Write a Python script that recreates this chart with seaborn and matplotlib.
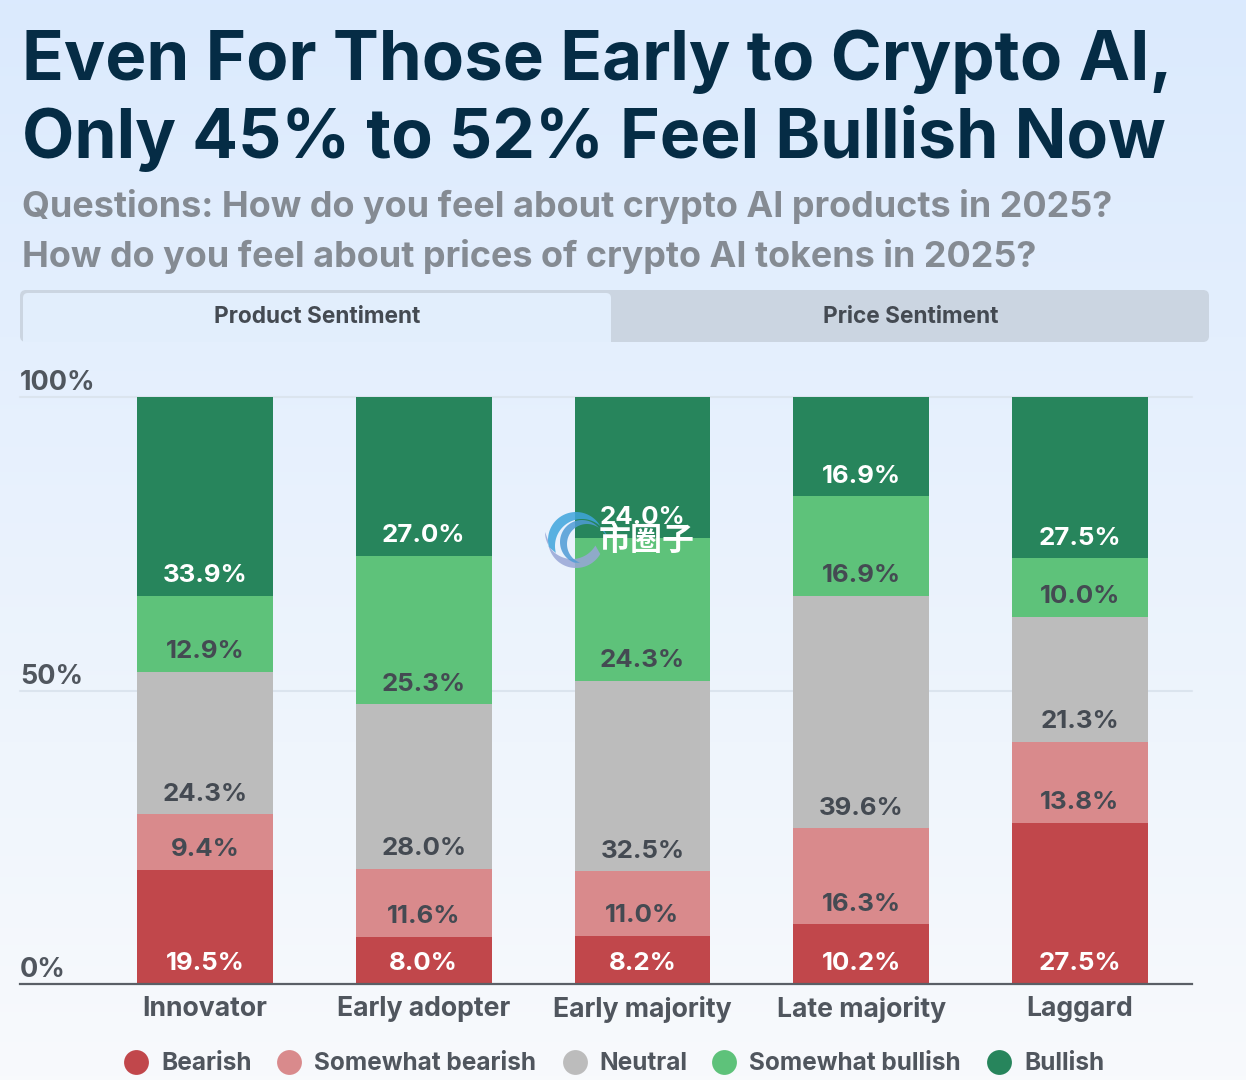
import numpy as np
import pandas as pd
import seaborn as sns
import matplotlib.pyplot as plt
from matplotlib.patches import Rectangle, FancyBboxPatch, Polygon

# Chart data
groups = ['Innovator', 'Early adopter', 'Early majority', 'Late majority', 'Laggard']
bearish = [19.5, 8.0, 8.2, 10.2, 27.5]
somewhat_bearish = [9.4, 11.6, 11.0, 16.3, 13.8]
neutral = [24.3, 28.0, 32.5, 39.6, 21.3]
somewhat_bullish = [12.9, 25.3, 24.3, 16.9, 10.0]
bullish = [33.9, 27.0, 24.0, 16.9, 27.5]

series_names = ['Bearish', 'Somewhat bearish', 'Neutral', 'Somewhat bullish', 'Bullish']
series_values = [bearish, somewhat_bearish, neutral, somewhat_bullish, bullish]
series_colors = ['#c1474b', '#d98a8c', '#bcbcbc', '#5ec27a', '#27855c']
label_colors = ['white', '#444a52', '#444a52', '#444a52', 'white']

y_ticks = [0, 50, 100]
tabs = ['Product Sentiment', 'Price Sentiment']

W, H = 1246, 1080
sns.set_theme(style='white')
plt.rcParams['font.family'] = ['Inter', 'Noto Sans CJK SC', 'DejaVu Sans']

fig = plt.figure(figsize=(W / 100, H / 100), dpi=100)


def px_rect(x0, y0, x1, y1):
    # pixel box (top-left origin) to figure fractions
    return [x0 / W, 1 - y1 / H, (x1 - x0) / W, (y1 - y0) / H]


def crescent(cx, cy, r, cx2, cy2, r2, a0, a1, color):
    # outer arc and inner arc joined into one tapered shape (y axis points down)
    a = np.radians(np.linspace(a0, a1, 60))
    outer = np.c_[cx + r * np.cos(a), cy - r * np.sin(a)]
    inner = np.c_[cx2 + r2 * np.cos(a[::-1]), cy2 - r2 * np.sin(a[::-1])]
    return Polygon(np.vstack([outer, inner]), fc=color, ec='none', alpha=0.85)


# Background gradient
bg = fig.add_axes([0, 0, 1, 1], zorder=0)
top_c = np.array([219, 234, 254]) / 255
bot_c = np.array([248, 250, 252]) / 255
t = np.linspace(0, 1, 256)[:, None, None]
bg.imshow(top_c * (1 - t) + bot_c * t, aspect='auto', extent=[0, W, H, 0])
bg.set_xlim(0, W)
bg.set_ylim(H, 0)
bg.axis('off')

# Title block
bg.text(22, 62, 'Even For Those Early to Crypto AI,', fontsize=49.7, fontweight='bold',
        color='#052c45', va='center', ha='left')
bg.text(22, 138, 'Only 45% to 52% Feel Bullish Now', fontsize=48.9, fontweight='bold',
        color='#052c45', va='center', ha='left')
bg.text(22, 206, 'Questions: How do you feel about crypto AI products in 2025?', fontsize=25.9,
        fontweight='bold', color='#858b93', va='center', ha='left')
bg.text(22, 257, 'How do you feel about prices of crypto AI tokens in 2025?', fontsize=25.9,
        fontweight='bold', color='#858b93', va='center', ha='left')

# Tabs
bg.add_patch(FancyBboxPatch((20, 290), 1189, 52, boxstyle='round,pad=0,rounding_size=6',
                            fc='#cbd5e1', ec='none'))
active = FancyBboxPatch((23, 293), 588, 60, boxstyle='round,pad=0,rounding_size=5',
                        fc='#e2eefc', ec='none')
bg.add_patch(active)
active.set_clip_path(Rectangle((0, 280), 700, 62, transform=bg.transData))
bg.text(317, 317, tabs[0], fontsize=16.3, fontweight='bold', color='#444a52', ha='center', va='center')
bg.text(911, 317, tabs[1], fontsize=16.3, fontweight='bold', color='#444a52', ha='center', va='center')

# Stacked bars, each column scaled to a full 100%
ax = fig.add_axes(px_rect(20, 397, 1192, 984), zorder=1)
ax.patch.set_alpha(0)
totals = np.sum(series_values, axis=0)
df = pd.DataFrame({'group': groups})
bottom = np.zeros(len(groups))
for name, vals, color, lc in zip(series_names, series_values, series_colors, label_colors):
    df[name] = np.array(vals) / totals * 100
    sns.barplot(data=df, x='group', y=name, color=color, bottom=bottom, width=0.62,
                saturation=1, errorbar=None, linewidth=0, ax=ax, zorder=3)
    for i, v in enumerate(vals):
        ax.annotate(f'{v:.1f}%', (i, bottom[i]), xytext=(0, 14.4), textcoords='offset points',
                    ha='center', va='center', fontsize=18.6, fontweight='bold', color=lc, zorder=5)
    bottom = bottom + df[name].to_numpy()

ax.set_xlim(-0.846, 4.513)
ax.set_ylim(0, 100)
ax.set_xlabel('')
ax.set_ylabel('')
ax.set_yticks(y_ticks)
ax.set_yticklabels([])
for y in y_ticks[1:]:
    ax.axhline(y, color='#dbe4ee', lw=1.5, zorder=1, clip_on=False)
for y in y_ticks:
    ax.annotate(f'{y}%', (0, y), xycoords=('axes fraction', 'data'), xytext=(0, 10),
                textcoords='offset points', ha='left', va='center', fontsize=19.5,
                fontweight='bold', color='#50565e')
ax.tick_params(axis='x', length=0, pad=8.5, labelsize=19.2, labelcolor='#50565e')
for lab in ax.get_xticklabels():
    lab.set_fontweight('bold')
ax.tick_params(axis='y', length=0)
for s in ['top', 'left', 'right']:
    ax.spines[s].set_visible(False)
ax.spines['bottom'].set_color('#5a5f66')
ax.spines['bottom'].set_linewidth(1.6)
ax.spines['bottom'].set_zorder(6)

# Legend
legend_dots = [136, 289, 575, 724, 999]
legend_text = [161, 314, 599, 749, 1024]
for dx, tx, name, color in zip(legend_dots, legend_text, series_names, series_colors):
    bg.scatter([dx], [1062], s=320, color=color, linewidths=0, zorder=3)
    bg.text(tx, 1064, name, fontsize=17.6, fontweight='bold', color='#50565e', ha='left', va='center')

# Watermark over the chart
wm = fig.add_axes([0, 0, 1, 1], zorder=2)
wm.set_xlim(0, W)
wm.set_ylim(H, 0)
wm.axis('off')
wm.add_patch(crescent(576, 540, 28, 582, 546, 27, 20, 195, '#3fa5dc'))
wm.add_patch(crescent(576, 540, 28, 572, 532, 27, 180, 330, '#98a6d6'))
wm.add_patch(crescent(582, 542, 22, 587, 544, 20, 40, 250, '#4f9bd6'))
wm.text(647, 541, '市圈子', fontsize=23, fontweight='bold', color='white', ha='center', va='center')

fig.savefig('out.png', dpi=100)
